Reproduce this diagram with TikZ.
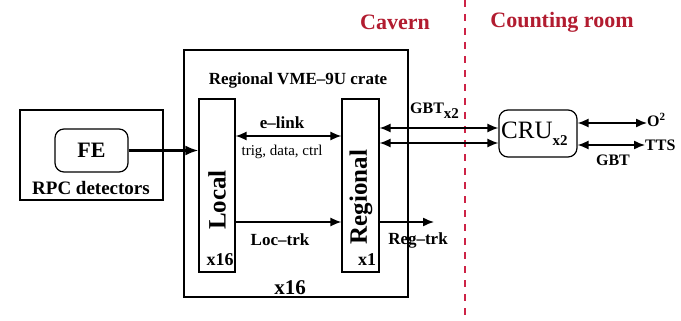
\documentclass[tikz,border=0pt]{standalone}
\usepackage{fontspec}
\setmainfont{Liberation Serif}
\usetikzlibrary{arrows.meta}
\definecolor{cavred}{RGB}{178,28,48}
\definecolor{dashred}{RGB}{205,35,70}
\begin{document}
\begin{tikzpicture}[x=1pt,y=-1pt,
  box/.style={draw,line width=1.2pt,inner sep=0pt},
  rbox/.style={box,rounded corners=9pt},
  lbl/.style={inner sep=0pt,font=\fontsize{#1}{#1}\selectfont\bfseries},
  lbl/.default=17,
  rlbl/.style={inner sep=0pt,font=\fontsize{#1}{#1}\selectfont},
  arr/.style={line width=1.4pt,-{Latex[length=11pt,width=9pt]}},
  darr/.style={line width=1.4pt,{Latex[length=11pt,width=9pt]}-{Latex[length=11pt,width=9pt]}}
]
\useasboundingbox (0,0) rectangle (681,321);
% boxes
\node[box,minimum width=143pt,minimum height=90pt] (rpc) at (91.5,155) {};
\node[rbox,minimum width=73pt,minimum height=43pt] (fe) at (91.5,150.5) {};
\node[lbl=22] (fetxt) at (91.5,150.5) {FE};
\node[lbl=19] (rpctxt) at (91,188) {RPC detectors};
\node[box,minimum width=224pt,minimum height=247pt] (crate) at (296,173.5) {};
\node[box,minimum width=36pt,minimum height=173pt] (local) at (217,185.5) {};
\node[box,minimum width=37pt,minimum height=173pt] (regional) at (360.5,185.5) {};
\node[rbox,minimum width=78pt,minimum height=47pt] (cru) at (538,133.5) {};
% texts
\node[lbl=17] (cratetxt) at (298,80) {Regional VME–9U crate};
\node[lbl=25,rotate=90] (localtxt) at (217,200) {Local};
\node[lbl=25,rotate=90] (regtxt) at (361,197) {Regional};
\node[lbl=18] (x16a) at (220,260) {x16};
\node[lbl=18] (x1) at (367,260) {x1};
\node[lbl=21] (x16b) at (290,288) {x16};
\node[lbl] (elink) at (282,123) {e–link};
\node[rlbl=15] (trig) at (282,152) {trig, data, ctrl};
\node[lbl] (loctrk) at (280,240) {Loc–trk};
\node[lbl] (regtrk) at (418,240) {Reg–trk};
\node[lbl=22,text=cavred] (cavern) at (395,22) {Cavern};
\node[lbl=22,text=cavred] (counting) at (562,22) {Counting room};
\node[lbl=16,anchor=west] (gbtx2) at (410,111) {GBT\raisebox{-5pt}{\fontsize{15}{15}\selectfont x2}};
\node[rlbl=25,anchor=west] (crutxt) at (501,134) {CRU\raisebox{-7pt}{\bfseries\fontsize{15}{15}\selectfont x2}};
\node[lbl=16,anchor=west] (o2) at (647,120) {O\textsuperscript{\fontsize{11}{11}\selectfont 2}};
\node[lbl=16,anchor=west] (tts) at (645,145) {TTS};
\node[lbl=16] (gbt) at (613,160) {GBT};
% dashed separator
\coordinate (septop) at (465,0);
\coordinate (sepbot) at (465,321);
\draw[dashred,line width=1.3pt,dash pattern=on 7pt off 7pt] (septop) -- (sepbot);
% connectors
\draw[line width=2.4pt,-{Latex[length=13pt,width=10pt]}] (fe.east) -- (local.west |- fe.east);
\draw[darr] (local.east |- 0,136) -- (regional.west |- 0,136);
\draw[arr] (local.east |- 0,222) -- (regional.west |- 0,222);
\coordinate (regtrkend) at (434,222);
\draw[arr] (regional.east |- 0,222) -- (regtrkend);
\draw[darr] (regional.east |- 0,128) -- (cru.west |- 0,128);
\draw[darr] (regional.east |- 0,143) -- (cru.west |- 0,143);
\draw[darr] (cru.east |- 0,123) -- (o2.west |- 0,123);
\draw[darr] (cru.east |- 0,145) -- (tts.west);
\end{tikzpicture}
\end{document}
